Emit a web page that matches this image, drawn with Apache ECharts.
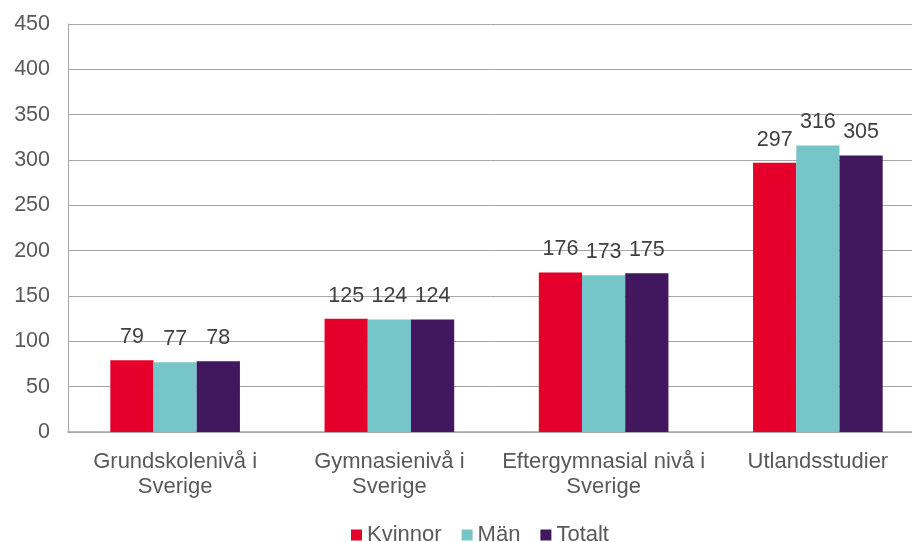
<!DOCTYPE html>
<html>
<head>
    <meta charset="utf-8">
    <title>Chart</title>
    <script src="https://cdn.jsdelivr.net/npm/echarts@6/dist/echarts.min.js"></script>
    <style>
        html, body { margin: 0; padding: 0; background: #fff; }
    </style>
</head>
<body>
    <div id="main" style="width: 912px;height:542px;"></div>
    <script type="text/javascript">
        var categories = ['Grundskolenivå i\nSverige', 'Gymnasienivå i\nSverige', 'Eftergymnasial nivå i\nSverige', 'Utlandsstudier'];
        var kvinnor = [79, 125, 176, 297];
        var man = [77, 124, 173, 316];
        var totalt = [78, 124, 175, 305];

        var myChart = echarts.init(document.getElementById('main'));
        var fontFam = '"Liberation Sans", Arial, sans-serif';
        function bar(name, data, color)
        {
            return {
                name: name,
                type: 'bar',
                barGap: 0,
                barCategoryGap: '39.5%',
                itemStyle: { color: color },
                label:
                {
                    show: true,
                    position: 'top',
                    distance: 12,
                    color: '#404040',
                    fontSize: 21.5,
                    fontFamily: fontFam
                },
                data: data
            };
        }
        var option = {
            animation: false,
            textStyle: { fontFamily: fontFam },
            grid: { left: 68, width: 857, top: 24, height: 408, containLabel: false, outerBoundsMode: 'none' },
            legend:
            {
                top: 519,
                left: 346,
                itemWidth: 11,
                itemHeight: 11,
                itemGap: 20,
                icon: 'rect',
                textStyle: { color: '#595959', fontSize: 22, fontFamily: fontFam },
                data: ['Kvinnor', 'Män', 'Totalt']
            },
            xAxis:
            {
                type: 'category',
                data: categories,
                axisLine: { lineStyle: { color: '#a6a6a6', width: 1.5 } },
                axisTick: { show: false },
                axisLabel: { interval: 0, color: '#595959', fontSize: 22, lineHeight: 25, margin: 17, fontFamily: fontFam }
            },
            yAxis:
            {
                type: 'value',
                min: 0,
                max: 450,
                interval: 50,
                axisLine: { show: true, lineStyle: { color: '#a6a6a6', width: 1 } },
                axisTick: { show: false },
                splitLine: { lineStyle: { color: '#a6a6a6', width: 1 } },
                axisLabel: { color: '#595959', fontSize: 21.5, margin: 18, fontFamily: fontFam }
            },
            series: [
                bar('Kvinnor', kvinnor, '#e4002b'),
                bar('Män', man, '#76c5c8'),
                bar('Totalt', totalt, '#41185e')
            ]
        };
        myChart.setOption(option);
    </script>
</body>
</html>
